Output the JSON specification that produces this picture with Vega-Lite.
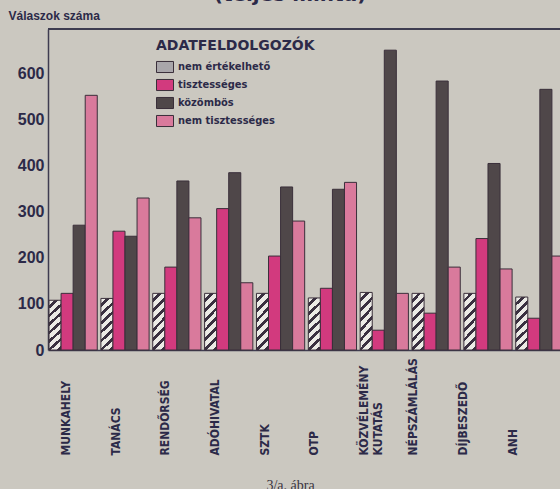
{
  "$schema": "https://vega.github.io/schema/vega-lite/v6.json",
  "width": 512,
  "height": 321,
  "autosize": {"type": "none"},
  "padding": {"left": 48, "top": 29, "right": 0, "bottom": 139},
  "background": "#cbc8c0",
  "title": {"text": "(teljes minta)", "fontSize": 20, "font": "DejaVu Sans", "fontWeight": "bold", "color": "#2c2a48", "offset": -7, "anchor": "middle", "baseline": "bottom", "dx": -14, "dy": 9},
  "config": {"view": {"stroke": null}, "axis": {"grid": false}},
  "data": {"values": [
    {"intezmeny": "MUNKAHELY", "valasz": "nem értékelhető", "ertek": 108},
    {"intezmeny": "MUNKAHELY", "valasz": "tisztességes", "ertek": 123},
    {"intezmeny": "MUNKAHELY", "valasz": "közömbös", "ertek": 271},
    {"intezmeny": "MUNKAHELY", "valasz": "nem tisztességes", "ertek": 553},
    {"intezmeny": "TANÁCS", "valasz": "nem értékelhető", "ertek": 112},
    {"intezmeny": "TANÁCS", "valasz": "tisztességes", "ertek": 258},
    {"intezmeny": "TANÁCS", "valasz": "közömbös", "ertek": 247},
    {"intezmeny": "TANÁCS", "valasz": "nem tisztességes", "ertek": 330},
    {"intezmeny": "RENDŐRSÉG", "valasz": "nem értékelhető", "ertek": 123},
    {"intezmeny": "RENDŐRSÉG", "valasz": "tisztességes", "ertek": 180},
    {"intezmeny": "RENDŐRSÉG", "valasz": "közömbös", "ertek": 367},
    {"intezmeny": "RENDŐRSÉG", "valasz": "nem tisztességes", "ertek": 287},
    {"intezmeny": "ADÓHIVATAL", "valasz": "nem értékelhető", "ertek": 123},
    {"intezmeny": "ADÓHIVATAL", "valasz": "tisztességes", "ertek": 307},
    {"intezmeny": "ADÓHIVATAL", "valasz": "közömbös", "ertek": 385},
    {"intezmeny": "ADÓHIVATAL", "valasz": "nem tisztességes", "ertek": 146},
    {"intezmeny": "SZTK", "valasz": "nem értékelhető", "ertek": 123},
    {"intezmeny": "SZTK", "valasz": "tisztességes", "ertek": 204},
    {"intezmeny": "SZTK", "valasz": "közömbös", "ertek": 354},
    {"intezmeny": "SZTK", "valasz": "nem tisztességes", "ertek": 280},
    {"intezmeny": "OTP", "valasz": "nem értékelhető", "ertek": 113},
    {"intezmeny": "OTP", "valasz": "tisztességes", "ertek": 134},
    {"intezmeny": "OTP", "valasz": "közömbös", "ertek": 349},
    {"intezmeny": "OTP", "valasz": "nem tisztességes", "ertek": 364},
    {"intezmeny": "KÖZVÉLEMÉNY KUTATÁS", "valasz": "nem értékelhető", "ertek": 125},
    {"intezmeny": "KÖZVÉLEMÉNY KUTATÁS", "valasz": "tisztességes", "ertek": 43},
    {"intezmeny": "KÖZVÉLEMÉNY KUTATÁS", "valasz": "közömbös", "ertek": 651},
    {"intezmeny": "KÖZVÉLEMÉNY KUTATÁS", "valasz": "nem tisztességes", "ertek": 123},
    {"intezmeny": "NÉPSZÁMLÁLÁS", "valasz": "nem értékelhető", "ertek": 123},
    {"intezmeny": "NÉPSZÁMLÁLÁS", "valasz": "tisztességes", "ertek": 80},
    {"intezmeny": "NÉPSZÁMLÁLÁS", "valasz": "közömbös", "ertek": 584},
    {"intezmeny": "NÉPSZÁMLÁLÁS", "valasz": "nem tisztességes", "ertek": 180},
    {"intezmeny": "DÍJBESZEDŐ", "valasz": "nem értékelhető", "ertek": 123},
    {"intezmeny": "DÍJBESZEDŐ", "valasz": "tisztességes", "ertek": 242},
    {"intezmeny": "DÍJBESZEDŐ", "valasz": "közömbös", "ertek": 405},
    {"intezmeny": "DÍJBESZEDŐ", "valasz": "nem tisztességes", "ertek": 176},
    {"intezmeny": "ANH", "valasz": "nem értékelhető", "ertek": 115},
    {"intezmeny": "ANH", "valasz": "tisztességes", "ertek": 69},
    {"intezmeny": "ANH", "valasz": "közömbös", "ertek": 566},
    {"intezmeny": "ANH", "valasz": "nem tisztességes", "ertek": 204}
  ]},
  "layer": [
    {
      "mark": {"type": "rule", "color": "#3f3c50", "strokeWidth": 1.5},
      "encoding": {"y": {"datum": 697}}
    },
    {
      "mark": {"type": "bar", "stroke": "#3a2f3a", "strokeWidth": 1},
      "encoding": {
        "x": {
          "field": "intezmeny", "type": "nominal", "sort": null,
          "scale": {"range": [0, 517], "paddingInner": 0.07, "paddingOuter": 0.02},
          "axis": {
            "labelAngle": -90, "labelAlign": "left", "labelBaseline": "middle",
            "labelPadding": 105, "ticks": false, "domain": true,
            "domainColor": "#3f3c50", "domainWidth": 1.5,
            "labelFont": "DejaVu Sans Condensed, Roboto, sans-serif", "labelFontWeight": "bold",
            "labelFontSize": 12, "labelColor": "#2c2a48", "labelLineHeight": 14,
            "labelOffset": {"expr": "-(7 + 2.26 * indexof(domain('x'), datum.value))"},
            "labelExpr": "datum.value == 'KÖZVÉLEMÉNY KUTATÁS' ? ['KÖZVÉLEMÉNY', 'KUTATÁS'] : datum.label",
            "title": "3/a. ábra", "titleFont": "Liberation Serif", "titleFontWeight": "normal",
            "titleFontSize": 14, "titleColor": "#3a3540", "titleX": 242, "titleY": 139,
            "titleBaseline": "alphabetic", "titleAlign": "center"
          }
        },
        "xOffset": {"field": "valasz", "type": "nominal", "sort": null, "scale": {"paddingInner": 0}},
        "y": {
          "field": "ertek", "type": "quantitative",
          "scale": {"domain": [0, 697], "nice": false},
          "axis": {
            "values": [0, 100, 200, 300, 400, 500, 600], "ticks": false, "labelPadding": 4,
            "labelFont": "Liberation Sans", "labelFontWeight": "bold", "labelFontSize": 16,
            "labelColor": "#2c2a48", "domainColor": "#3f3c50", "domainWidth": 1.5,
            "title": "Válaszok száma", "titleAngle": 0, "titleAlign": "left",
            "titleBaseline": "alphabetic", "titleX": -40, "titleY": -10,
            "titleFont": "Liberation Sans", "titleFontWeight": "bold", "titleFontSize": 12,
            "titleColor": "#2c2a48"
          }
        },
        "color": {
          "condition": {"test": "datum.valasz === 'nem értékelhető'", "value": {"gradient": "linear", "x1": 0, "y1": 0, "x2": 0.25, "y2": 1.15, "stops": [
                {"offset": 0, "color": "#ecebe6"}, {"offset": 0.0857, "color": "#ecebe6"},
                {"offset": 0.0857, "color": "#3a3040"}, {"offset": 0.1429, "color": "#3a3040"},
                {"offset": 0.1429, "color": "#ecebe6"}, {"offset": 0.2286, "color": "#ecebe6"},
                {"offset": 0.2286, "color": "#3a3040"}, {"offset": 0.2857, "color": "#3a3040"},
                {"offset": 0.2857, "color": "#ecebe6"}, {"offset": 0.3714, "color": "#ecebe6"},
                {"offset": 0.3714, "color": "#3a3040"}, {"offset": 0.4286, "color": "#3a3040"},
                {"offset": 0.4286, "color": "#ecebe6"}, {"offset": 0.5143, "color": "#ecebe6"},
                {"offset": 0.5143, "color": "#3a3040"}, {"offset": 0.5714, "color": "#3a3040"},
                {"offset": 0.5714, "color": "#ecebe6"}, {"offset": 0.6571, "color": "#ecebe6"},
                {"offset": 0.6571, "color": "#3a3040"}, {"offset": 0.7143, "color": "#3a3040"},
                {"offset": 0.7143, "color": "#ecebe6"}, {"offset": 0.8, "color": "#ecebe6"},
                {"offset": 0.8, "color": "#3a3040"}, {"offset": 0.8571, "color": "#3a3040"},
                {"offset": 0.8571, "color": "#ecebe6"}, {"offset": 0.9429, "color": "#ecebe6"},
                {"offset": 0.9429, "color": "#3a3040"}, {"offset": 1, "color": "#3a3040"}
              ]}},
          "field": "valasz", "type": "nominal",
          "scale": {
            "domain": ["nem értékelhető", "tisztességes", "közömbös", "nem tisztességes"],
            "range": ["#a9a6aa", "#d23a7e", "#4f4749", "#d97a9c"]
          },
          "legend": {
            "title": "ADATFELDOLGOZÓK", "orient": "none", "legendX": 108, "legendY": 10,
            "padding": 0, "titleFont": "DejaVu Sans", "titleFontWeight": "bold",
            "titleFontSize": 14, "titleColor": "#2c2a48", "titlePadding": 5,
            "titleBaseline": "top",
            "labelFont": "DejaVu Sans Condensed, Roboto, sans-serif", "labelFontWeight": "bold",
            "labelFontSize": 11, "labelColor": "#2c2a48", "labelOffset": 4,
            "symbolType": "M-1,-0.65H1V0.65H-1Z", "symbolSize": 289, "symbolOpacity": 1,
            "symbolStrokeColor": "#3a2f3a", "symbolStrokeWidth": 1, "rowPadding": 1
          }
        }
      }
    }
  ]
}
